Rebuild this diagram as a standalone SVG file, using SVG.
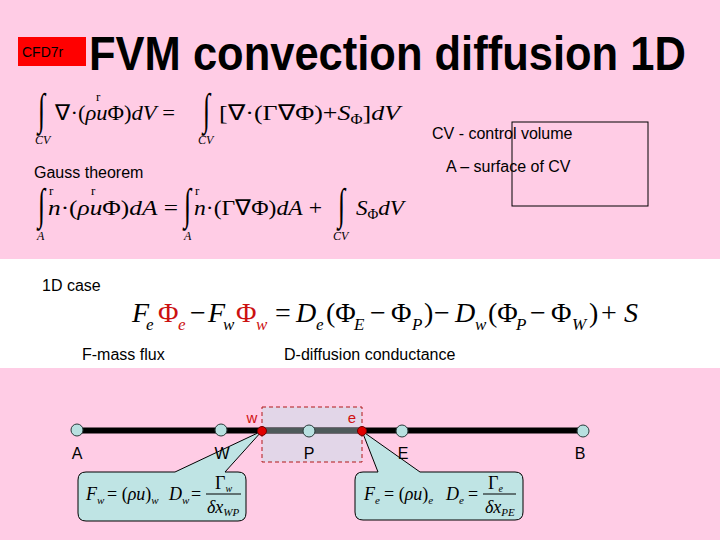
<svg xmlns="http://www.w3.org/2000/svg" width="720" height="540" viewBox="0 0 720 540">
<style>
.sans{font-family:"Liberation Sans",Arial,sans-serif;fill:#000}
.m{font-family:"Liberation Serif","Times New Roman",serif;fill:#000}
.i{font-style:italic}
.red{fill:#cc1111}
.node{fill:#b8e0e0;stroke:#2a3a3a;stroke-width:1}
.dot{fill:#e00000;stroke:#700000;stroke-width:1}
.callout{fill:#bfe4e4;stroke:#000;stroke-width:1}
</style>
<rect x="0" y="0" width="720" height="540" fill="#ffcce5"/>
<rect x="0" y="259" width="720" height="109" fill="#ffffff"/>

<g id="header">
<rect x="18" y="37" width="68" height="29" fill="#ff0000"/>
<text class="sans" x="22" y="57" font-size="14">CFD7r</text>
<text class="sans" transform="translate(89,70) scale(1,1.12)" x="0" y="0" font-size="43.5" font-weight="bold">FVM convection diffusion 1D</text>
</g>

<g id="eq1">
<text class="m" transform="translate(38,124) scale(1,1.7)" font-size="26">∫</text>
<text class="m i" x="35" y="144" font-size="12">CV</text>
<text class="m" x="55" y="120" font-size="22" textLength="120" lengthAdjust="spacingAndGlyphs">∇·(<tspan class="i">ρu</tspan>Φ)<tspan class="i">dV</tspan> =</text>
<text class="m" x="96" y="101" font-size="13">r</text>
<text class="m" transform="translate(203,124) scale(1,1.7)" font-size="26">∫</text>
<text class="m i" x="198" y="144" font-size="12">CV</text>
<text class="m" x="219" y="120" font-size="22" textLength="181" lengthAdjust="spacingAndGlyphs">[∇·(Γ∇Φ)+<tspan class="i">S</tspan><tspan font-size="14" dy="4">Φ</tspan><tspan dy="-4">]</tspan><tspan class="i">dV</tspan></text>
</g>

<g id="cv-labels">
<text class="sans" x="432" y="139" font-size="16">CV - control volume</text>
<text class="sans" x="446" y="172" font-size="16">A – surface of CV</text>
<rect x="512" y="122" width="136" height="84" fill="none" stroke="#000" stroke-width="1"/>
</g>

<g id="gauss">
<text class="sans" x="34" y="178" font-size="16">Gauss theorem</text>
<text class="m" transform="translate(38,219) scale(1,1.7)" font-size="26">∫</text>
<text class="m i" x="37" y="240" font-size="12">A</text>
<text class="m" x="48" y="215" font-size="22" textLength="130" lengthAdjust="spacingAndGlyphs"><tspan class="i">n</tspan>·(<tspan class="i">ρu</tspan>Φ)<tspan class="i">dA</tspan> =</text>
<text class="m" x="49" y="195" font-size="13">r</text>
<text class="m" x="91" y="195" font-size="13">r</text>
<text class="m" transform="translate(184,219) scale(1,1.7)" font-size="26">∫</text>
<text class="m i" x="184" y="240" font-size="12">A</text>
<text class="m" x="194" y="215" font-size="22" textLength="128" lengthAdjust="spacingAndGlyphs"><tspan class="i">n</tspan>·(Γ∇Φ)<tspan class="i">dA</tspan> +</text>
<text class="m" x="195" y="195" font-size="13">r</text>
<text class="m" transform="translate(338,219) scale(1,1.7)" font-size="26">∫</text>
<text class="m i" x="333" y="240" font-size="12">CV</text>
<text class="m" x="356" y="215" font-size="22" textLength="48" lengthAdjust="spacingAndGlyphs"><tspan class="i">S</tspan><tspan font-size="14" dy="4">Φ</tspan><tspan class="i" dy="-4">dV</tspan></text>
</g>

<g id="case1d">
<text class="sans" x="42" y="291" font-size="16">1D case</text>
<text class="m" y="322" font-size="28">
<tspan class="i" x="132">F</tspan><tspan class="i" x="146" dy="8" font-size="17">e</tspan>
<tspan class="red" x="158" dy="-8">Φ</tspan><tspan class="i red" x="178" dy="8" font-size="17">e</tspan>
<tspan x="190" dy="-8">−</tspan>
<tspan class="i" x="208">F</tspan><tspan class="i" x="223" dy="8" font-size="17">w</tspan>
<tspan class="red" x="236" dy="-8">Φ</tspan><tspan class="i red" x="256" dy="8" font-size="17">w</tspan>
<tspan x="275" dy="-8">=</tspan>
<tspan class="i" x="296">D</tspan><tspan class="i" x="316" dy="8" font-size="17">e</tspan>
<tspan x="326" dy="-8">(Φ</tspan><tspan class="i" x="354" dy="8" font-size="17">E</tspan>
<tspan x="370" dy="-8">−</tspan>
<tspan x="391">Φ</tspan><tspan class="i" x="412" dy="8" font-size="17">P</tspan>
<tspan x="424" dy="-8">)</tspan>
<tspan x="434">−</tspan>
<tspan class="i" x="455">D</tspan><tspan class="i" x="475" dy="8" font-size="17">w</tspan>
<tspan x="488" dy="-8">(Φ</tspan><tspan class="i" x="516" dy="8" font-size="17">P</tspan>
<tspan x="530" dy="-8">−</tspan>
<tspan x="551">Φ</tspan><tspan class="i" x="572" dy="8" font-size="17">W</tspan>
<tspan x="589" dy="-8">)</tspan>
<tspan x="601">+</tspan>
<tspan class="i" x="624">S</tspan>
</text>
<text class="sans" x="82" y="360" font-size="16">F-mass flux</text>
<text class="sans" x="284" y="360" font-size="16">D-diffusion conductance</text>
</g>

<g id="cv-box">
<rect x="262" y="407" width="100" height="55" fill="#e2d6e8" stroke="#b01818" stroke-width="1" stroke-dasharray="4,3"/>
</g>

<g id="connectors">
<line x1="77" y1="430.5" x2="583" y2="430.5" stroke="#000" stroke-width="6"/>
<line x1="262" y1="430.5" x2="362" y2="430.5" stroke="#4e5a5a" stroke-width="5"/>
<path class="callout" d="M86,472 H175 L262,431 L225,472 H238 Q246,472 246,480 V513 Q246,521 238,521 H86 Q78,521 78,513 V480 Q78,472 86,472 Z"/>
<path class="callout" d="M363,472 H378 L362,431 L420,472 H515 Q523,472 523,480 V512 Q523,520 515,520 H363 Q355,520 355,512 V480 Q355,472 363,472 Z"/>
</g>

<g id="node-A"><circle class="node" cx="77" cy="430" r="6"/><text class="sans" x="77" y="459" font-size="16" text-anchor="middle">A</text></g>
<g id="node-W"><circle class="node" cx="221" cy="430" r="6"/><text class="sans" x="222" y="459" font-size="16" text-anchor="middle">W</text></g>
<g id="node-P"><circle class="node" cx="309" cy="431" r="6"/><text class="sans" x="309" y="459" font-size="16" text-anchor="middle">P</text></g>
<g id="node-E"><circle class="node" cx="402" cy="431" r="6"/><text class="sans" x="403" y="459" font-size="16" text-anchor="middle">E</text></g>
<g id="node-B"><circle class="node" cx="583" cy="431" r="6"/><text class="sans" x="580" y="459" font-size="16" text-anchor="middle">B</text></g>
<g id="face-w"><circle class="dot" cx="262" cy="431" r="4.5"/><text class="sans" x="252" y="423" font-size="15" text-anchor="middle" style="fill:#d01010">w</text></g>
<g id="face-e"><circle class="dot" cx="362" cy="431" r="4.5"/><text class="sans" x="352" y="423" font-size="15" text-anchor="middle" style="fill:#d01010">e</text></g>

<g id="callout-w">
<text class="m" y="500" font-size="18"><tspan class="i" x="86">F</tspan><tspan class="i" x="97" dy="4" font-size="11">w</tspan><tspan x="107" dy="-4">= (</tspan><tspan class="i">ρu</tspan><tspan>)</tspan><tspan class="i" dy="4" font-size="11">w</tspan><tspan class="i" x="169" dy="-4">D</tspan><tspan class="i" x="182" dy="4" font-size="11">w</tspan><tspan x="191" dy="-4">=</tspan></text>
<text class="m" x="215" y="489" font-size="18">Γ<tspan class="i" font-size="10" dy="3">w</tspan></text>
<line x1="206" y1="494" x2="241" y2="494" stroke="#000" stroke-width="1"/>
<text class="m i" x="207" y="513" font-size="18">δx<tspan font-size="11" dy="3">WP</tspan></text>
</g>

<g id="callout-e">
<text class="m" y="500" font-size="18"><tspan class="i" x="364">F</tspan><tspan class="i" x="375" dy="4" font-size="11">e</tspan><tspan x="384" dy="-4">= (</tspan><tspan class="i">ρu</tspan><tspan>)</tspan><tspan class="i" dy="4" font-size="11">e</tspan><tspan class="i" x="446" dy="-4">D</tspan><tspan class="i" x="459" dy="4" font-size="11">e</tspan><tspan x="468" dy="-4">=</tspan></text>
<text class="m" x="488" y="489" font-size="18">Γ<tspan class="i" font-size="10" dy="3">e</tspan></text>
<line x1="483" y1="494" x2="516" y2="494" stroke="#000" stroke-width="1"/>
<text class="m i" x="485" y="513" font-size="18">δx<tspan font-size="11" dy="3">PE</tspan></text>
</g>
</svg>
